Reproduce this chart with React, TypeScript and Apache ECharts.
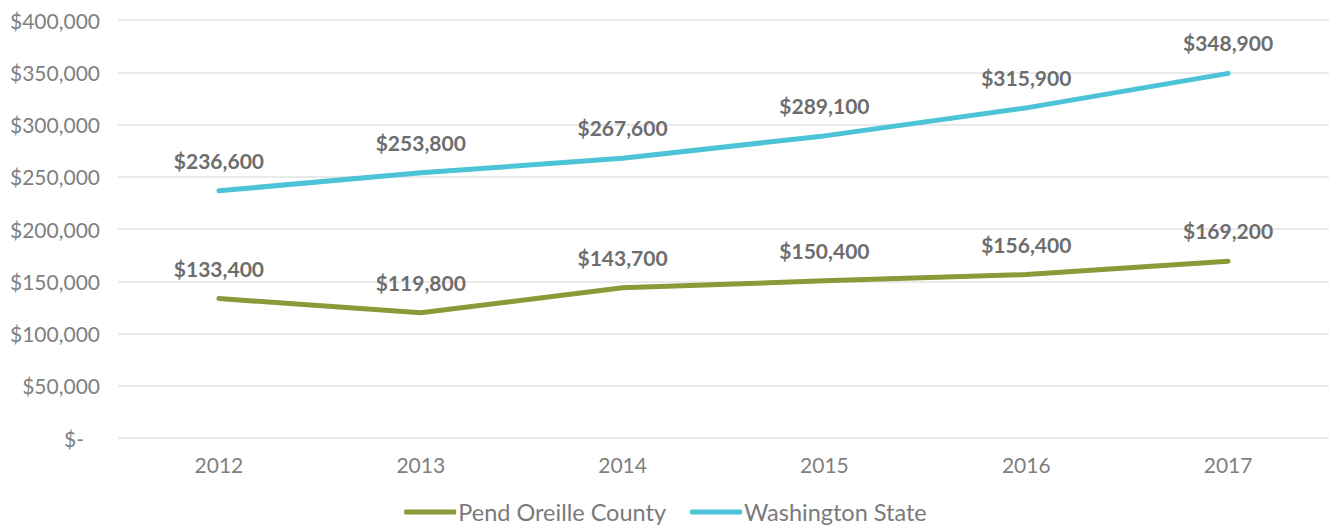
import React, { useEffect, useRef } from "react";
import * as echarts from "echarts";

const years = ["2012", "2013", "2014", "2015", "2016", "2017"];
const pendOreille = [133400, 119800, 143700, 150400, 156400, 169200];
const washington = [236600, 253800, 267600, 289100, 315900, 348900];
const seriesNames = ["Pend Oreille County", "Washington State"];

const FONT = "Lato, 'Open Sans', sans-serif";

function money(v: number): string {
  if (v === 0) return "{z|$-}";
  return "$" + v.toLocaleString("en-US");
}

export default function App() {
  const ref = useRef<HTMLDivElement>(null);
  useEffect(() => {
    if (!ref.current) return;
    const chart = echarts.init(ref.current, undefined, { renderer: "svg" });
    const labelStyle = {
      show: true,
      position: "top" as const,
      distance: 19,
      fontFamily: FONT,
      fontSize: 21,
      fontWeight: "bold" as const,
      color: "#6d6d6d",
      formatter: (p: any) => "$" + Number(p.value).toLocaleString("en-US"),
    };
    chart.setOption({
      animation: false,
      grid: { left: 118, right: 2, top: 20, bottom: 91 },
      legend: {
        bottom: 0,
        left: "center",
        itemWidth: 52,
        itemHeight: 5,
        itemGap: 24,
        icon: "roundRect",
        textStyle: { fontFamily: FONT, fontSize: 23.5, color: "#7a7a7a", padding: [0, 0, 0, -3] },
        data: seriesNames,
      },
      xAxis: {
        type: "category",
        data: years,
        boundaryGap: true,
        axisLine: { show: false },
        axisTick: { show: false },
        axisLabel: { fontFamily: FONT, fontSize: 21, color: "#7f7f7f", margin: 16 },
      },
      yAxis: {
        type: "value",
        min: 0,
        max: 400000,
        interval: 50000,
        axisLine: { show: false },
        axisTick: { show: false },
        splitLine: { lineStyle: { color: "#e3e3e3", width: 1.5 } },
        axisLabel: {
          fontFamily: FONT,
          fontSize: 21,
          color: "#7f7f7f",
          margin: 18,
          formatter: money,
          rich: { z: { fontFamily: FONT, fontSize: 21, color: "#7f7f7f", padding: [0, 16, 0, 0] } },
        },
      },
      series: [
        {
          name: seriesNames[0],
          type: "line",
          data: pendOreille,
          symbol: "circle",
          showSymbol: true,
          symbolSize: 2,
          itemStyle: { color: "#8a9a38" },
          lineStyle: { width: 5, color: "#8a9a38", cap: "round" },
          label: labelStyle,
        },
        {
          name: seriesNames[1],
          type: "line",
          data: washington,
          symbol: "circle",
          showSymbol: true,
          symbolSize: 2,
          itemStyle: { color: "#4cc3d6" },
          lineStyle: { width: 5, color: "#4cc3d6", cap: "round" },
          label: labelStyle,
        },
      ],
    });
    return () => chart.dispose();
  }, []);
  return <div ref={ref} style={{ width: 1331, height: 529, position: "absolute", left: 0, top: 0 }} />;
}
